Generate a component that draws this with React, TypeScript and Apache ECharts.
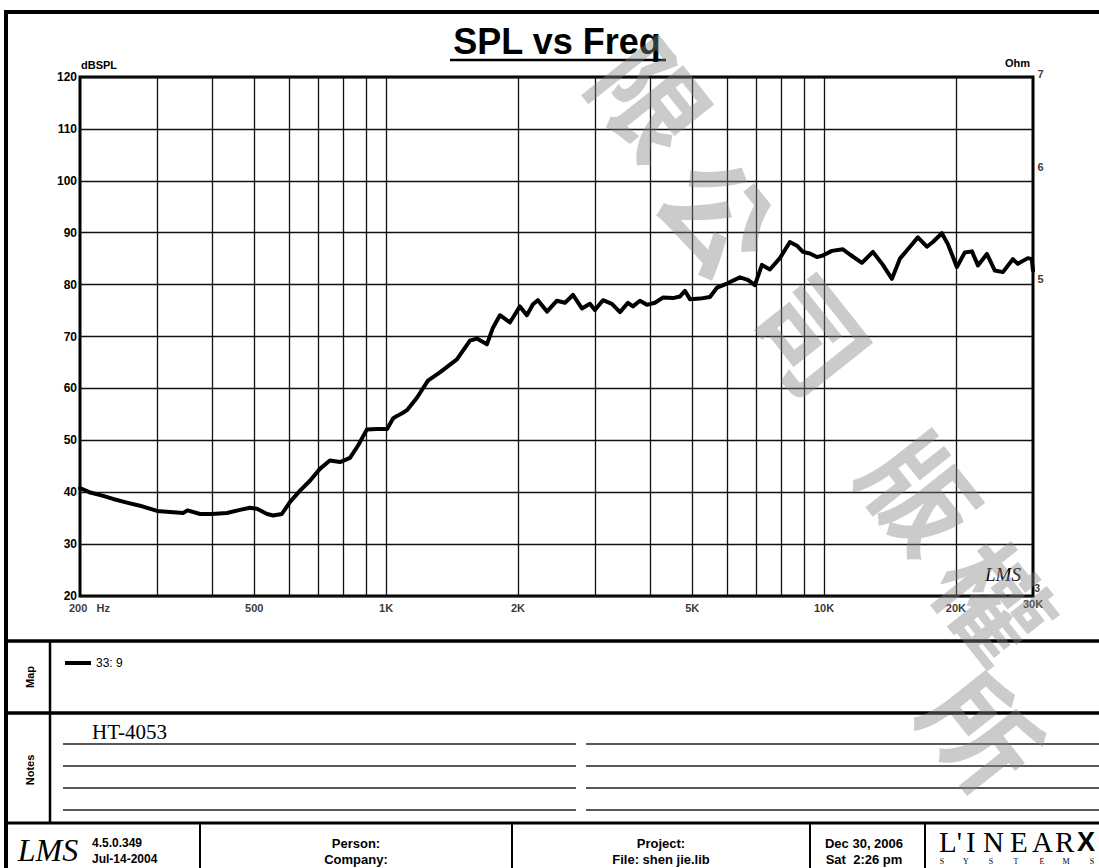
import React, { useEffect, useRef } from "react";
import * as echarts from "echarts";

// ---- data ----
const freqHz = [
  200, 210, 226, 238, 256, 274, 300, 321, 344, 352, 376, 400, 433, 464, 489, 507, 535, 552, 578,
  603, 636, 670, 706, 744, 785, 827, 863, 904, 953, 1005, 1037, 1059, 1093, 1116, 1176, 1246,
  1327, 1451, 1554, 1612, 1699, 1754, 1819, 1917, 2021, 2096, 2164, 2221, 2330, 2455, 2561,
  2671, 2800, 2920, 2998, 3127, 3278, 3420, 3566, 3661, 3798, 3940, 4110, 4286, 4518, 4689,
  4812, 4940, 5206, 5488, 5695, 6002, 6425, 6700, 6952, 7214, 7522, 7928, 8356, 8670, 8948,
  9283, 9631, 9939, 10424, 11042, 11456, 12204, 12930, 13626, 14288, 14900, 15540, 16378,
  17172, 17722, 18580, 19174, 20106, 20960, 21762, 22459, 23546, 24548, 25608, 26984, 27700,
  29200, 29800, 30000,
];
const splDb = [
  40.8, 40.0, 39.3, 38.7, 38.0, 37.4, 36.4, 36.2, 36.0, 36.5, 35.8, 35.8, 36.0, 36.6, 37.0, 36.8,
  35.8, 35.5, 35.8, 38.1, 40.3, 42.2, 44.5, 46.1, 45.8, 46.6, 49.0, 52.1, 52.2, 52.2, 54.2, 54.7,
  55.3, 55.8, 58.2, 61.5, 63.1, 65.6, 69.2, 69.6, 68.5, 71.7, 74.1, 72.7, 75.8, 74.1, 76.2, 77.0,
  74.8, 76.9, 76.5, 78.0, 75.4, 76.3, 75.1, 77.0, 76.3, 74.7, 76.5, 75.8, 76.9, 76.1, 76.5, 77.5,
  77.4, 77.7, 78.8, 77.2, 77.3, 77.6, 79.4, 80.2, 81.4, 80.9, 79.9, 83.8, 82.9, 85.1, 88.2, 87.5,
  86.3, 86.0, 85.3, 85.6, 86.5, 86.8, 85.8, 84.2, 86.3, 83.8, 81.1, 85.0, 86.8, 89.1, 87.3, 88.2,
  89.9, 87.8, 83.4, 86.2, 86.4, 83.7, 85.9, 82.7, 82.4, 84.9, 84.0, 85.1, 84.9, 82.7,
];
const seriesName = "33: 9";
const gridFreqs = [300, 400, 500, 600, 700, 800, 900, 1000, 2000, 3000, 4000, 5000, 6000, 7000, 8000, 9000, 10000, 20000];
const xTickFreqs = [200, 500, 1000, 2000, 5000, 10000, 20000, 30000];
const xTickLabels = ["200   Hz", "500", "1K", "2K", "5K", "10K", "20K", "30K"];
const ohmTicks = [7, 6, 5, 3];
const watermarkChars = ["限", "公", "司", "版", "權", "所"];
const logoLetters = ["L'", "I", "N", "E", "A", "R"];
const logoSubLetters = ["S", "Y", "S", "T", "E", "M", "S"];

const SANS = "'Liberation Sans', Arial, Helvetica, sans-serif";
const SERIF = "'Liberation Serif', 'Times New Roman', serif";

function hline(x1: number, x2: number, y: number, w: number, c = "#000") {
  return { type: "line", silent: true, shape: { x1, y1: y, x2, y2: y }, style: { stroke: c, lineWidth: w } };
}
function vline(x: number, y1: number, y2: number, w: number, c = "#000") {
  return { type: "line", silent: true, shape: { x1: x, y1, x2: x, y2 }, style: { stroke: c, lineWidth: w } };
}
function txt(text: string, x: number, y: number, size: number, opts: any = {}) {
  return {
    type: "text",
    silent: true,
    x,
    y,
    rotation: opts.rotation || 0,
    z: opts.z ?? 10,
    style: {
      text,
      fill: opts.fill || "#000",
      fontSize: size,
      fontWeight: opts.weight || "normal",
      fontStyle: opts.style || "normal",
      fontFamily: opts.family || SANS,
      align: opts.align || "left",
      verticalAlign: opts.va || "middle",
    },
  };
}

export default function App() {
  const ref = useRef<HTMLDivElement>(null);
  useEffect(() => {
    document.body.style.margin = "0";
    document.body.style.background = "#fff";
    if (!ref.current) return;
    const chart = echarts.init(ref.current, undefined, { renderer: "svg" });

    const wmPos = [
      [655, 96],
      [722, 212],
      [815, 332],
      [925, 490],
      [998, 598],
      [986, 728],
    ];
    const watermark = watermarkChars.map((ch, i) =>
      txt(ch, wmPos[i][0], wmPos[i][1], 110, {
        family: "'Noto Sans CJK TC', 'Noto Sans CJK SC', sans-serif",
        weight: "bold",
        fill: "rgba(130,130,130,0.42)",
        align: "center",
        rotation: -0.9,
        z: 20,
      })
    );

    const notesY = [744, 766, 788, 810];
    const noteLines: any[] = [];
    notesY.forEach((y) => {
      noteLines.push(hline(63, 576, y, 1.4, "#222"));
      noteLines.push(hline(586, 1099, y, 1.4, "#222"));
    });

    const logoX = [939, 966, 983, 1010, 1032, 1055];
    const logo = logoLetters.map((l, i) => txt(l, logoX[i], 842, 29, { family: SERIF }));
    const subX = [942, 966, 991, 1016, 1042, 1066, 1092];
    const sub = logoSubLetters.map((l, i) => txt(l, subX[i], 861, 8, { family: SERIF, align: "center" }));

    const graphics: any[] = [
      // frame
      hline(4, 1099, 12, 4),
      vline(6, 10, 868, 4),
      hline(6, 1099, 641, 3.5),
      hline(6, 1099, 713, 3.5),
      hline(6, 1099, 823, 3),
      vline(50, 641, 823, 2.5),
      vline(200, 823, 868, 2),
      vline(512, 823, 868, 2),
      vline(810, 823, 868, 2),
      vline(925, 823, 868, 2),
      ...noteLines,
      // title
      txt("SPL vs Freq", 557, 41, 36, { weight: "bold", align: "center" }),
      hline(450, 666, 60, 2.5),
      // section labels
      txt("Map", 30, 677, 11, { weight: "bold", align: "center", rotation: Math.PI / 2 }),
      txt("Notes", 30, 770, 11, { weight: "bold", align: "center", rotation: Math.PI / 2 }),
      txt("HT-4053", 92, 732, 21, { family: SERIF }),
      // LMS marks
      txt("LMS", 1003, 574, 19, { family: SERIF, style: "italic", align: "center" }),
      txt("LMS", 48, 850, 32, { family: SERIF, style: "italic", align: "center" }),
      // bottom row
      txt("4.5.0.349", 92, 843, 12, { weight: "bold" }),
      txt("Jul-14-2004", 92, 859, 12, { weight: "bold" }),
      txt("Person:", 356, 843, 13, { weight: "bold", align: "center" }),
      txt("Company:", 356, 859, 13, { weight: "bold", align: "center" }),
      txt("Project:", 661, 843, 13, { weight: "bold", align: "center" }),
      txt("File: shen jie.lib", 661, 859, 13, { weight: "bold", align: "center" }),
      txt("Dec 30, 2006", 864, 843, 13, { weight: "bold", align: "center" }),
      txt("Sat  2:26 pm", 864, 859, 13, { weight: "bold", align: "center" }),
      ...logo,
      txt("X", 1077, 842, 27, { weight: "bold" }),
      ...sub,
      ...watermark,
    ];

    const option: any = {
      animation: false,
      backgroundColor: "#fff",
      textStyle: { fontFamily: SANS },
      grid: {
        left: 80,
        right: 66,
        top: 77,
        bottom: 272,
        show: true,
        borderColor: "#000",
        borderWidth: 3,
        backgroundColor: "transparent",
      },
      legend: {
        data: [seriesName],
        left: 60,
        top: 652,
        icon: "rect",
        itemWidth: 26,
        itemHeight: 4,
        textStyle: { fontSize: 12, color: "#000", fontFamily: SANS },
      },
      xAxis: {
        type: "log",
        logBase: 10,
        min: 200,
        max: 30000,
        axisLine: { show: false },
        axisTick: { show: false },
        axisLabel: { show: false },
        splitLine: { show: false },
      },
      yAxis: [
        {
          type: "value",
          min: 20,
          max: 120,
          interval: 10,
          name: "dBSPL",
          nameLocation: "end",
          nameGap: 7,
          nameTextStyle: { align: "left", fontWeight: "bold", fontSize: 11, color: "#000", padding: [0, 0, 0, 1] },
          axisLine: { show: false },
          axisTick: { show: false },
          axisLabel: { margin: 3, fontSize: 12, fontWeight: "bold", color: "#000", fontFamily: SANS },
          splitLine: { lineStyle: { color: "#111", width: 1.3 } },
        },
        {
          type: "log",
          logBase: 10,
          min: 3,
          max: 7,
          position: "right",
          name: "Ohm",
          nameLocation: "end",
          nameGap: 9,
          nameTextStyle: { align: "right", fontWeight: "bold", fontSize: 11, color: "#000", padding: [0, 3, 0, 0] },
          axisLine: { show: false },
          axisTick: { show: false },
          axisLabel: { show: false },
          splitLine: { show: false },
        },
      ],
      series: [
        {
          name: seriesName,
          type: "line",
          xAxisIndex: 0,
          yAxisIndex: 0,
          data: freqHz.map((f, i) => [f, splDb[i]]),
          showSymbol: false,
          symbol: "none",
          z: 5,
          lineStyle: { color: "#000", width: 4, join: "round", cap: "round" },
          itemStyle: { color: "#000" },
          markLine: {
            silent: true,
            symbol: ["none", "none"],
            label: { show: false },
            lineStyle: { color: "#111", width: 1.3, type: "solid" },
            data: gridFreqs.map((f) => ({ xAxis: f })),
          },
        },
        {
          name: "xticks",
          type: "scatter",
          xAxisIndex: 0,
          yAxisIndex: 0,
          symbolSize: 1,
          silent: true,
          clip: false,
          itemStyle: { color: "rgba(0,0,0,0)" },
          data: xTickFreqs.map((f, i) => ({
            value: [f, 20],
            label: {
              show: true,
              formatter: xTickLabels[i],
              position: "bottom",
              distance: 6,
              fontSize: 11,
              fontWeight: "bold",
              color: "#000",
              fontFamily: SANS,
              align: i === 0 ? "left" : "center",
              offset: i === 0 ? [-11, 0] : i === xTickFreqs.length - 1 ? [0, -4] : [0, 0],
            },
          })),
        },
        {
          name: "ohmticks",
          type: "scatter",
          xAxisIndex: 0,
          yAxisIndex: 1,
          symbolSize: 1,
          silent: true,
          clip: false,
          itemStyle: { color: "rgba(0,0,0,0)" },
          data: ohmTicks.map((v) => ({
            value: [30000, v],
            label: {
              show: true,
              formatter: String(v),
              position: "right",
              distance: v === 3 ? 1 : 4,
              fontSize: v === 3 ? 10 : 11,
              fontWeight: "bold",
              color: "#000",
              fontFamily: SANS,
              offset: v === 3 ? [0, -8] : v === 7 ? [0, -3] : [0, -4],
            },
          })),
        },
      ],
      graphic: { elements: graphics },
    };
    chart.setOption(option);
    return () => chart.dispose();
  }, []);
  return <div ref={ref} style={{ width: 1099, height: 868 }} />;
}
